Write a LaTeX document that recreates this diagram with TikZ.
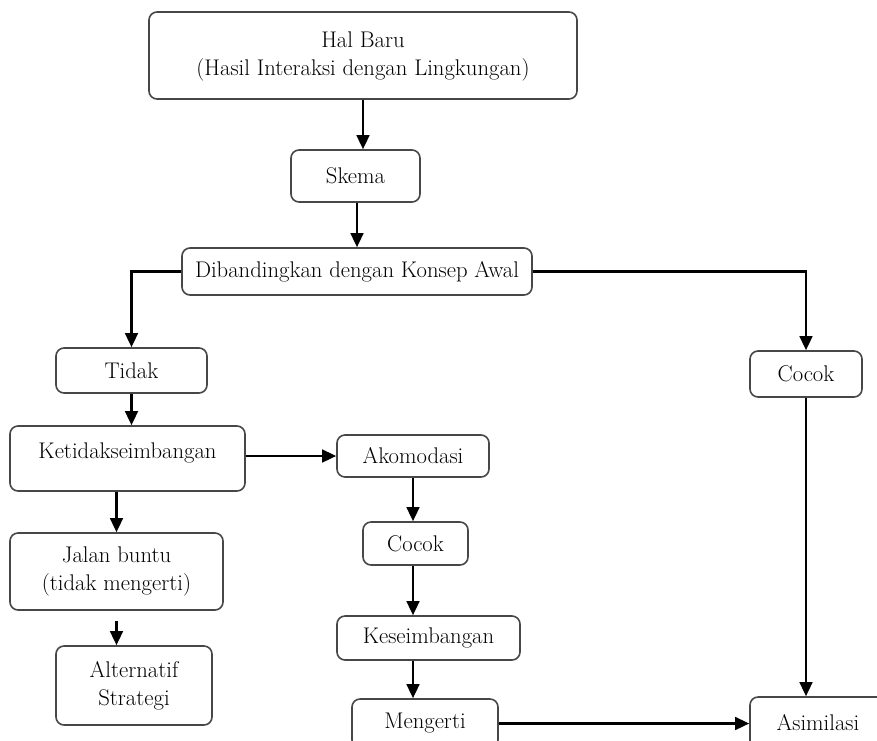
\documentclass[tikz,border=0pt]{standalone}
\usetikzlibrary{arrows.meta}
\begin{document}
\begin{tikzpicture}[x=0.75pt,y=-0.75pt,
  box/.style={draw=black!72, line width=1.2pt, rounded corners=6pt, fill=white, align=center, inner sep=0pt, font=\fontsize{17}{21}\selectfont, text=black},
  txt/.style={align=center, inner sep=0pt, font=\fontsize{17}{21}\selectfont, text=black},
  sz/.style 2 args={minimum width=#1*0.75pt, minimum height=#2*0.75pt},
  arr/.style={line width=1.8pt, -{Triangle[length=10.5pt,width=9.5pt]}}]
\useasboundingbox (0,0) rectangle (877,740);
\fill[white] (0,0) rectangle (877,740);

\node[box, sz={428}{87}] (hal) at (363,55.5) {};
\node[txt] (halT) at (363,56) {Hal Baru\\(Hasil Interaksi dengan Lingkungan)};
\node[box, sz={129}{52}] (skema) at (355.5,176) {Skema};
\node[box, sz={350}{47}] (dib) at (357,271.5) {Dibandingkan dengan Konsep Awal};
\node[box, sz={151}{45}] (tidak) at (131.5,370.5) {Tidak};
\node[box, sz={112}{46}] (cocokR) at (806,374) {Cocok};
\node[box, sz={235}{65}] (ketidak) at (127.5,458.5) {};
\node[txt] (ketidakT) at (127.5,453) {Ketidakseimbangan};
\node[box, sz={152}{42}] (akom) at (413,456) {Akomodasi};
\node[box, sz={105}{43}] (cocokM) at (415.5,543.5) {Cocok};
\node[box, sz={213}{77}] (jalan) at (116.5,571.5) {Jalan buntu\\(tidak mengerti)};
\node[box, sz={183}{44}] (kese) at (428.5,638) {Keseimbangan};
\node[box, sz={156}{79}] (alt) at (134,685.5) {Alternatif\\Strategi};
\node[box, sz={146}{49}] (meng) at (425,723.5) {Mengerti};
\node[box, sz={136}{52}] (asim) at (818,723) {Asimilasi};

\draw[arr] (hal.south) -- (hal.south |- skema.north);
\draw[arr] (skema.south -| dib.north) -- (dib.north);
\draw[arr] (dib.west) -| (tidak.north);
\draw[arr] (dib.east) -| (cocokR.north);
\draw[arr] (tidak.south) -- (tidak.south |- ketidak.north);
\draw[arr] (ketidak.east |- akom.west) -- (akom.west);
\draw[arr] (ketidak.south -| jalan.north) -- (jalan.north);
\draw[arr] ([yshift=-7.5pt]jalan.south) -- (jalan.south |- alt.north);
\draw[arr] (akom.south) -- (akom.south |- cocokM.north);
\draw[arr] (akom.south |- cocokM.south) -- (akom.south |- kese.north);
\draw[arr] (akom.south |- kese.south) -- (akom.south |- meng.north);
\draw[arr] (meng.east) -- (meng.east -| asim.west);
\draw[arr] (cocokR.south) -- (cocokR.south |- asim.north);
\end{tikzpicture}
\end{document}
